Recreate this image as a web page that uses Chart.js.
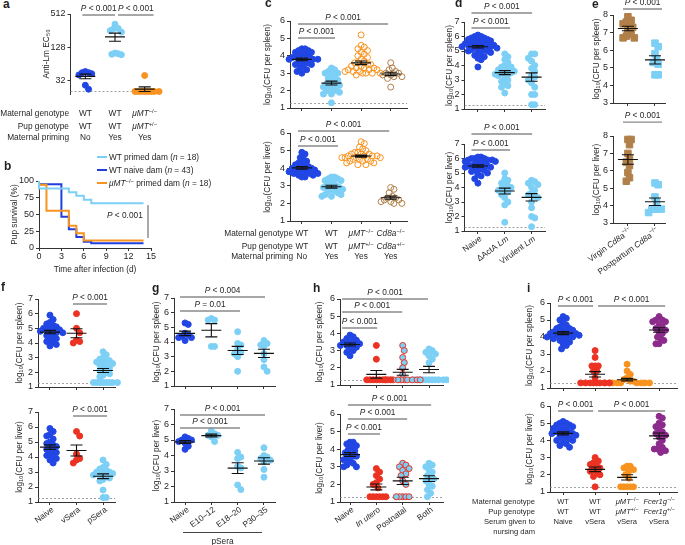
<!DOCTYPE html>
<html>
<head>
<meta charset="utf-8">
<script src="https://cdn.jsdelivr.net/npm/chart.js@4"></script>
<style>
body { margin: 0; background: #fff; }
#fig { position: relative; width: 685px; height: 545px; overflow: hidden; font-family: "Liberation Sans", Arial, sans-serif; color: #231f20; }
#fig canvas { position: absolute; }
.t { position: absolute; white-space: nowrap; font-size: 8.3px; line-height: 12px; }
.lt { position: absolute; font-weight: bold; font-size: 12px; line-height: 12px; }
sup { font-size: 70%; line-height: 0; vertical-align: 3px; }
</style>
</head>
<body>
<div id="fig"></div>
<script>
// ---- data ----

// a: anti-Lm EC50
const aNaive = [46, 44, 44, 42, 40, 26, 22];
const aPrimed = [335, 280, 275, 255, 240, 100, 97, 95, 93];
const aMuMT = [39, 20, 20, 20, 20, 20, 20, 20, 20];

// b: pup survival (%)
const bPrimedDay = [0, 4, 5, 6, 7, 10, 14];
const bPrimedPct = [100, 88.9, 83.3, 77.8, 72.2, 66.7, 66.7];
const bNaiveDay = [0, 3, 4, 5, 6, 7, 8, 14];
const bNaivePct = [100, 95.3, 46.5, 27.9, 16.3, 9.3, 7.0, 7.0];
const bMuMTDay = [0, 1, 4, 5, 6, 7, 14];
const bMuMTPct = [100, 94.4, 55.6, 33.3, 22.2, 11.1, 11.1];

// c: log10 CFU
const cSpleenNaive = [4.4, 4.4, 4.3, 4.3, 4.2, 4.2, 4.1, 4.0, 4.0, 3.9, 3.9, 3.9, 3.8, 3.8, 3.8, 3.7, 3.7, 3.6, 3.6, 3.5, 3.5, 3.4, 3.3, 3.2, 3.1, 3.0];
const cSpleenPrimed = [3.3, 3.2, 3.1, 3.0, 3.0, 2.9, 2.8, 2.7, 2.6, 2.5, 2.4, 2.4, 2.3, 2.2, 2.2, 2.1, 2.0, 2.0, 1.9, 1.8, 1.8, 1.3];
const cSpleenMuMT = [5.2, 4.6, 4.5, 4.4, 4.3, 4.2, 4.1, 4.0, 3.9, 3.8, 3.7, 3.6, 3.6, 3.5, 3.5, 3.4, 3.4, 3.3, 3.3, 3.3, 3.2, 3.2, 3.2, 3.1, 3.1, 3.1, 3.0, 3.0, 3.0, 3.0, 2.9];
const cSpleenCd8a = [3.6, 3.3, 3.2, 3.1, 3.0, 3.0, 2.9, 2.9, 2.8, 2.8, 2.7, 2.2];
const cLiverNaive = [4.9, 4.8, 4.6, 4.5, 4.4, 4.3, 4.2, 4.2, 4.1, 4.1, 4.0, 4.0, 3.9, 3.9, 3.9, 3.8, 3.8, 3.8, 3.7, 3.7, 3.7, 3.6, 3.6, 3.5, 3.5];
const cLiverPrimed = [3.5, 3.5, 3.4, 3.4, 3.3, 3.3, 3.2, 3.1, 3.0, 3.0, 2.9, 2.9, 2.8, 2.8, 2.7, 2.7, 2.6, 2.5, 2.5, 2.4, 2.4];
const cLiverMuMT = [5.5, 5.4, 5.2, 5.1, 5.0, 4.9, 4.9, 4.8, 4.8, 4.8, 4.7, 4.7, 4.7, 4.7, 4.6, 4.6, 4.6, 4.6, 4.5, 4.5, 4.5, 4.4, 4.4, 4.4, 4.3, 4.3, 4.2, 4.2];
const cLiverCd8a = [2.9, 2.8, 2.6, 2.4, 2.3, 2.3, 2.2, 2.2, 2.1, 2.1, 2.0, 2.0];

// d
const dSpleenNaive = [6.1, 6.0, 6.0, 5.9, 5.9, 5.8, 5.8, 5.7, 5.7, 5.6, 5.6, 5.5, 5.5, 5.5, 5.4, 5.4, 5.4, 5.3, 5.3, 5.3, 5.2, 5.2, 5.2, 5.1, 5.1, 5.0, 5.0, 4.9, 4.9, 4.8, 4.7, 4.6, 4.5, 4.4, 3.9];
const dSpleenActA = [4.8, 4.6, 4.4, 4.2, 4.0, 3.9, 3.9, 3.8, 3.7, 3.6, 3.6, 3.5, 3.5, 3.4, 3.4, 3.3, 3.2, 3.0, 2.9, 2.8, 2.6, 2.5, 2.1];
const dSpleenVirulent = [4.8, 4.8, 4.5, 4.3, 4.0, 3.8, 3.6, 3.3, 3.2, 3.0, 2.8, 2.5, 2.0, 2.0, 1.3, 1.3];
const dLiverNaive = [6.1, 6.1, 6.0, 6.0, 6.0, 5.9, 5.9, 5.9, 5.8, 5.8, 5.7, 5.7, 5.6, 5.6, 5.5, 5.5, 5.5, 5.4, 5.4, 5.3, 5.3, 5.2, 5.2, 5.1, 5.0, 4.9, 4.8, 4.6, 4.3];
const dLiverActA = [5.0, 4.6, 4.5, 4.3, 4.2, 4.1, 4.0, 3.9, 3.8, 3.8, 3.7, 3.5, 3.3, 3.0, 2.8, 1.6];
const dLiverVirulent = [4.5, 4.4, 4.3, 4.2, 4.0, 3.8, 3.6, 3.5, 3.4, 3.3, 3.0, 2.6, 2.0, 1.9, 1.3];

// e
const eSpleenVirgin = [7.9, 7.7, 7.6, 7.5, 7.4, 7.3, 7.1, 6.9, 6.8, 6.7, 6.7];
const eSpleenPostpartum = [6.4, 6.2, 5.8, 5.5, 5.3, 5.2, 4.6, 4.6];
const eLiverVirgin = [7.8, 7.8, 7.5, 7.0, 6.7, 6.5, 6.3, 5.9, 5.6, 5.4];
const eLiverPostpartum = [5.3, 5.2, 4.5, 4.2, 3.8, 3.8, 3.8, 3.8, 3.6];

// f
const fSpleenNaive = [5.9, 5.6, 5.4, 5.3, 5.2, 5.1, 5.0, 5.0, 4.9, 4.9, 4.8, 4.8, 4.7, 4.7, 4.6, 4.5, 4.4, 4.3, 4.2, 4.1, 4.0, 3.9, 3.8];
const fSpleenVSera = [6.0, 5.0, 4.7, 4.2, 4.1, 4.0];
const fSpleenPSera = [3.4, 3.2, 3.0, 2.9, 2.8, 2.8, 2.7, 2.6, 2.6, 2.5, 2.4, 2.3, 2.2, 2.1, 2.0, 1.9, 1.8, 1.7, 1.3, 1.3, 1.3, 1.3, 1.3, 1.3, 1.3, 1.3];
const fLiverNaive = [5.9, 5.7, 5.5, 5.4, 5.2, 5.0, 4.9, 4.8, 4.7, 4.6, 4.5, 4.4, 4.3, 4.2, 4.1, 4.0, 3.9, 3.8, 3.6];
const fLiverVSera = [5.7, 5.4, 4.2, 3.9, 3.8, 3.6];
const fLiverPSera = [3.8, 3.5, 3.3, 3.2, 3.1, 3.0, 3.0, 2.9, 2.9, 2.8, 2.8, 2.7, 2.6, 2.5, 2.4, 1.8, 1.3, 1.3];

// g
const gSpleenNaive = [5.3, 5.2, 4.6, 4.5, 4.4, 4.3, 4.3, 4.1];
const gSpleenE10 = [5.6, 5.5, 5.5, 3.7, 3.7];
const gSpleenE18 = [4.7, 3.9, 3.8, 3.5, 3.3, 3.2, 3.0, 2.0];
const gSpleenP30 = [4.1, 3.9, 3.8, 3.7, 3.2, 2.8, 2.3, 2.0];
const gLiverNaive = [5.2, 5.1, 5.0, 5.0, 4.9, 4.8, 4.6, 4.4];
const gLiverE10 = [5.6, 5.4, 5.3, 5.3, 5.2, 4.9];
const gLiverE18 = [4.2, 3.9, 3.8, 3.3, 3.2, 2.1, 1.8];
const gLiverP30 = [4.5, 4.0, 3.9, 3.8, 3.7, 3.6, 3.1, 2.6];

// h
const hSpleenNaive = [3.9, 3.8, 3.7, 3.6, 3.5, 3.5, 3.4, 3.4, 3.3, 3.3, 3.2, 3.1, 3.0, 2.9, 2.7];
const hSpleenUtero = [3.3, 2.5, 1.3, 1.3, 1.3, 1.3, 1.3, 1.3, 1.3, 1.3];
const hSpleenPostnatal = [3.3, 3.0, 2.6, 2.3, 2.0, 1.6, 1.3, 1.3, 1.3, 1.3, 1.3, 1.3, 1.3, 1.3, 1.3, 1.3];
const hSpleenBoth = [3.1, 3.0, 2.9, 2.8, 2.7, 2.5, 2.3, 1.3, 1.3, 1.3, 1.3, 1.3, 1.3, 1.3, 1.3, 1.3, 1.3];
const hLiverNaive = [4.4, 4.4, 4.3, 4.2, 4.1, 4.0, 3.9, 3.8, 3.7, 3.6, 3.6, 3.5, 3.4, 3.3, 3.2, 3.1, 3.0, 3.0];
const hLiverUtero = [2.9, 2.7, 2.5, 2.3, 2.1, 2.0, 1.8, 1.3, 1.3, 1.3, 1.3, 1.3, 1.3];
const hLiverPostnatal = [3.2, 3.1, 3.0, 2.9, 2.8, 2.6, 2.5, 2.2, 2.0, 1.3, 1.3, 1.3, 1.3, 1.3];
const hLiverBoth = [3.2, 3.1, 3.0, 2.8, 2.7, 2.5, 2.4, 2.3, 2.2, 2.0, 1.9, 1.7, 1.5, 1.3];

// i
const iSpleenNaive = [5.2, 5.1, 5.0, 4.8, 4.7, 4.6, 4.5, 4.5, 4.4, 4.4, 4.3, 4.3, 4.2, 4.2, 4.2, 4.1, 4.1, 4.1, 4.0, 4.0, 4.0, 3.9, 3.9, 3.8, 3.7, 3.6, 3.5, 3.3];
const iSpleenVSera = [3.2, 2.8, 2.3, 2.3, 2.3, 2.0, 2.0, 1.6, 1.3, 1.3, 1.3, 1.3, 1.3, 1.3, 1.3, 1.3];
const iSpleenMuMT = [2.4, 2.0, 1.8, 1.6, 1.5, 1.4, 1.4, 1.3, 1.3, 1.3, 1.3, 1.3, 1.3, 1.3, 1.3, 1.3];
const iSpleenFcer = [5.2, 5.0, 5.0, 4.9, 4.9, 4.7, 4.6, 4.5, 4.4, 4.3, 4.2, 4.0, 3.9, 3.8, 3.6, 3.6];
const iLiverNaive = [5.1, 5.0, 5.0, 4.9, 4.9, 4.8, 4.7, 4.7, 4.6, 4.6, 4.5, 4.5, 4.4, 4.4, 4.3, 4.3, 4.2, 4.2, 4.1, 4.0, 4.0, 3.9, 3.8, 3.7, 3.6];
const iLiverVSera = [3.0, 2.8, 2.7, 2.6, 2.5, 2.4, 2.3, 2.2, 2.1, 2.0, 1.9, 1.3];
const iLiverMuMT = [2.5, 2.5, 2.4, 2.3, 2.2, 2.0, 1.8, 1.3, 1.3, 1.3, 1.3, 1.3];
const iLiverFcer = [5.4, 5.3, 5.0, 4.9, 4.8, 4.6, 4.5, 4.4, 4.3, 4.2, 4.0, 3.8, 3.6, 3.5, 3.5, 3.4, 3.3];

const P001 = '_P_ < 0.001';
const LOD = 1.3;

// ---- drawing ----
const BLUE = '#2146e4', LBLUE = '#7ccff5', ORANGE = '#f8931f', RED = '#ec3223', PURPLE = '#8c2b8c', BROWN = '#b1804a';
const AX = '#333';
const INK = '#231f20';
const FONT = '"Liberation Sans", Arial, sans-serif';
const fig = document.getElementById('fig');
const extras = {};

function text(x, y, html, align, size, cls) {
    const d = document.createElement('div');
    d.className = cls || 't';
    d.innerHTML = html;
    d.style.left = x + 'px';
    d.style.top = (y - 6) + 'px';
    if (size) d.style.fontSize = size + 'px';
    if (align === 'center') d.style.transform = 'translateX(-50%)';
    if (align === 'right') d.style.transform = 'translateX(-100%)';
    fig.appendChild(d);
    return d;
}

// _italic_ and ^superscript^ inside canvas strings
function drawRich(ctx, str, x, y, align, size) {
    const parts = [];
    let it = false, sup = false, buf = '';
    for (const ch of str) {
        if (ch === '_' || ch === '^') {
            if (buf) parts.push({ s: buf, it, sup });
            buf = '';
            if (ch === '_') it = !it; else sup = !sup;
        } else buf += ch;
    }
    if (buf) parts.push({ s: buf, it, sup });
    const fontOf = p => (p.it ? 'italic ' : '') + (p.sup ? size * 0.7 : size) + 'px ' + FONT;
    let w = 0;
    parts.forEach(p => { ctx.font = fontOf(p); p.w = ctx.measureText(p.s).width; w += p.w; });
    let cx = align === 'center' ? x - w / 2 : align === 'right' ? x - w : x;
    ctx.textAlign = 'left';
    ctx.textBaseline = 'middle';
    parts.forEach(p => {
        ctx.font = fontOf(p);
        ctx.fillText(p.s, cx, p.sup ? y - size * 0.35 : y);
        cx += p.w;
    });
}

function meanSem(v) {
    const n = v.length;
    const m = v.reduce((a, b) => a + b, 0) / n;
    const sd = Math.sqrt(v.reduce((a, b) => a + (b - m) * (b - m), 0) / (n - 1));
    return [m, sd / Math.sqrt(n)];
}

const figPlugin = {
    id: 'figExtras',
    beforeDatasetsDraw(chart) {
        const ex = extras[chart.canvas.id];
        if (!ex || ex.lod == null) return;
        const { ctx, chartArea: a, scales: { y } } = chart;
        const py = Math.round(y.getPixelForValue(ex.lod)) + 0.5;
        ctx.save();
        ctx.strokeStyle = '#8a8a8a';
        ctx.lineWidth = 0.8;
        ctx.setLineDash([2, 2]);
        ctx.beginPath();
        ctx.moveTo(a.left, py);
        ctx.lineTo(a.right, py);
        ctx.stroke();
        ctx.restore();
    },
    afterDatasetsDraw(chart) {
        const ex = extras[chart.canvas.id];
        if (!ex) return;
        const { ctx, chartArea: a, scales: { x, y } } = chart;
        ctx.save();
        // mean +- s.e.m.
        (ex.groups || []).forEach(g => {
            const [m, s] = meanSem(g.v);
            const px = x.getPixelForValue(g.col);
            const pm = y.getPixelForValue(m);
            const p1 = y.getPixelForValue(m + s), p2 = y.getPixelForValue(m - s);
            ctx.strokeStyle = '#111';
            ctx.lineWidth = 1.1;
            ctx.beginPath();
            ctx.moveTo(px - 10, pm); ctx.lineTo(px + 10, pm);
            ctx.moveTo(px, p1); ctx.lineTo(px, p2);
            ctx.moveTo(px - 6, p1); ctx.lineTo(px + 6, p1);
            ctx.moveTo(px - 6, p2); ctx.lineTo(px + 6, p2);
            ctx.stroke();
        });
        // significance brackets
        ctx.fillStyle = INK;
        (ex.brackets || []).forEach(br => {
            const x1 = x.getPixelForValue(br.from), x2 = x.getPixelForValue(br.to);
            const py = y.getPixelForValue(br.y);
            ctx.strokeStyle = '#8a8a8a';
            ctx.lineWidth = 1.4;
            ctx.beginPath();
            ctx.moveTo(x1, py); ctx.lineTo(x2, py);
            ctx.stroke();
            drawRich(ctx, br.label || P001, (x1 + x2) / 2, py - 6.5, 'center', 8.3);
        });
        // free texts and vertical bars in data units
        (ex.vbars || []).forEach(vb => {
            const px = x.getPixelForValue(vb.x);
            ctx.strokeStyle = '#555';
            ctx.lineWidth = 1;
            ctx.beginPath();
            ctx.moveTo(px, y.getPixelForValue(vb.y1));
            ctx.lineTo(px, y.getPixelForValue(vb.y2));
            ctx.stroke();
        });
        (ex.texts || []).forEach(t => {
            drawRich(ctx, t.label, x.getPixelForValue(t.x), y.getPixelForValue(t.y), 'center', 8.3);
        });
        // rotated category labels
        (ex.xlabels || []).forEach((lab, i) => {
            ctx.save();
            ctx.translate(x.getPixelForValue(i) + 3, a.bottom + 7);
            ctx.rotate(-36 * Math.PI / 180);
            drawRich(ctx, lab, 0, 0, 'right', 8.3);
            ctx.restore();
        });
        ctx.restore();
    }
};
Chart.register(figPlugin);

// spread close values sideways so dots do not pile up (beeswarm, elliptical keep-out)
function swarm(values, col, xPx, yPx, toY) {
    const rx = 3.2, ry = 5.5, step = 1.6;
    const placed = [];
    const pts = [];
    values.slice().sort((p, q) => q - p).forEach(v => {
        const py = toY(v) * yPx;
        for (let k = 0; k < 400; k++) {
            const off = (k % 2 ? 1 : -1) * Math.ceil(k / 2) * step;
            const free = placed.every(q => {
                const dx = (q[0] - off) / rx, dy = (q[1] - py) / ry;
                return dx * dx + dy * dy >= 1;
            });
            if (free) {
                placed.push([off, py]);
                pts.push({ x: col + off / xPx, y: v });
                break;
            }
        }
    });
    return pts;
}

function makeCanvas(id, p) {
    const extL = p.extL || 0;
    const cl = Math.round(p.titleX - 5 - extL);
    const padTop = Math.min(24, p.t);
    const ct = Math.round(p.t - padTop);
    const cw = Math.ceil(p.r - cl + (p.padR || 6));
    const ch = Math.ceil(p.b - ct + (p.xh || 8));
    const cv = document.createElement('canvas');
    cv.id = id;
    cv.width = cw;
    cv.height = ch;
    cv.style.left = cl + 'px';
    cv.style.top = ct + 'px';
    fig.appendChild(cv);
    return { cv, extL, yw: p.l - cl - extL, pt: p.t - ct, pr: cw - (p.r - cl), xh: ch - (p.b - ct) };
}

function yTitle(txt) {
    return { display: true, text: txt, color: INK, padding: 0, font: { size: 8.3, family: FONT } };
}

function dotPanel(id, p) {
    const c = makeCanvas(id, p);
    const toY = p.log ? Math.log10 : (v => v);
    const xPx = (p.r - p.l) / (p.xmax - p.xmin);
    const yPx = (p.b - p.t) / (toY(p.ymax) - toY(p.ymin));
    const cols = p.groups.map(g => g.col);
    const datasets = p.groups.map(g => ({
        data: swarm(g.v, g.col, xPx, yPx, toY),
        pointStyle: g.shape || 'circle',
        pointRadius: g.rad || 3,
        pointBackgroundColor: g.fill,
        pointBorderColor: g.edge,
        pointBorderWidth: 1,
        clip: false
    }));
    extras[id] = { groups: p.groups, lod: p.lod, brackets: p.brackets, xlabels: p.xlabels };
    const yScale = {
        type: p.log ? 'logarithmic' : 'linear',
        min: p.ymin, max: p.ymax,
        afterFit: s => { s.width = c.yw; },
        ticks: { stepSize: 1, color: INK, padding: 2, font: { size: 9, family: FONT }, callback: v => v },
        grid: { drawOnChartArea: false, tickLength: 3, color: AX },
        border: { color: AX },
        title: yTitle(p.title)
    };
    if (p.yticks) yScale.afterBuildTicks = s => { s.ticks = p.yticks.map(v => ({ value: v })); };
    new Chart(c.cv, {
        type: 'scatter',
        data: { datasets },
        options: {
            responsive: false, animation: false, events: [],
            layout: { padding: { top: c.pt, right: c.pr, left: c.extL, bottom: p.noX ? c.xh : 0 } },
            plugins: { legend: { display: false }, tooltip: { enabled: false } },
            scales: {
                x: {
                    type: 'linear', display: !p.noX, min: p.xmin, max: p.xmax,
                    afterBuildTicks: s => { s.ticks = cols.map(v => ({ value: v })); },
                    afterFit: s => { s.height = c.xh; },
                    ticks: { display: false },
                    grid: { drawOnChartArea: false, tickLength: 3, color: AX },
                    border: { color: AX }
                },
                y: yScale
            }
        }
    });
}

const SPLEEN = 'log\u2081\u2080(CFU per spleen)';
const LIVER = 'log\u2081\u2080(CFU per liver)';
const dot = (v, col, color) => ({ v, col, fill: color, edge: color });
const ring = (v, col, color) => ({ v, col, fill: 'rgba(255,255,255,0)', edge: color });
const sq = (v, col, color) => ({ v, col, fill: color, edge: color, shape: 'rect', rad: 4.6 });

// panel a
dotPanel('a', {
    l: 70.5, r: 159.5, t: 14, b: 98.5, xmin: -0.5, xmax: 2.5, ymin: 18, ymax: 512, log: true,
    yticks: [32, 128, 512], titleX: 46.5, title: 'Anti-Lm EC\u2085\u2080', noX: true, xh: 4, lod: 20,
    groups: [dot(aNaive, 0, BLUE), dot(aPrimed, 1, LBLUE), dot(aMuMT, 2, ORANGE)],
    brackets: [{ from: -0.1, to: 1.0, y: 492 }, { from: 1.1, to: 2.3, y: 492 }]
});

// panel c
const cX = { l: 290, r: 407, xmin: -0.4, xmax: 3.55, ymin: 1, ymax: 6, titleX: 268 };
dotPanel('cS', Object.assign({}, cX, {
    t: 21, b: 108, title: SPLEEN, lod: LOD,
    groups: [dot(cSpleenNaive, 0, BLUE), dot(cSpleenPrimed, 1, LBLUE), ring(cSpleenMuMT, 2, ORANGE), ring(cSpleenCd8a, 3, BROWN)],
    brackets: [{ from: -0.13, to: 2.91, y: 5.83 }, { from: -0.13, to: 1.12, y: 5.02 }]
}));
dotPanel('cL', Object.assign({}, cX, {
    t: 133, b: 221, title: LIVER,
    groups: [dot(cLiverNaive, 0, BLUE), dot(cLiverPrimed, 1, LBLUE), ring(cLiverMuMT, 2, ORANGE), ring(cLiverCd8a, 3, BROWN)],
    brackets: [{ from: -0.13, to: 2.95, y: 6.11 }, { from: -0.13, to: 1.22, y: 5.26 }]
}));

// panel d
const dX = { l: 464.5, r: 545.5, xmin: -0.5, xmax: 2.5, ymin: 1, ymax: 7, titleX: 450, padR: 4 };
dotPanel('dS', Object.assign({}, dX, {
    t: 22, b: 109, title: SPLEEN, lod: LOD,
    groups: [dot(dSpleenNaive, 0, BLUE), dot(dSpleenActA, 1, LBLUE), dot(dSpleenVirulent, 2, LBLUE)],
    brackets: [{ from: -0.24, to: 2.02, y: 7.62 }, { from: -0.24, to: 1.2, y: 6.59 }]
}));
dotPanel('dL', Object.assign({}, dX, {
    t: 144, b: 231, title: LIVER, lod: LOD, xh: 44,
    groups: [dot(dLiverNaive, 0, BLUE), dot(dLiverActA, 1, LBLUE), dot(dLiverVirulent, 2, LBLUE)],
    brackets: [{ from: -0.24, to: 2.02, y: 7.69 }, { from: -0.24, to: 1.2, y: 6.59 }],
    xlabels: ['Naive', '\u0394ActA _Lm_', 'Virulent _Lm_']
}));

// panel e
const eX = { l: 613, r: 665, xmin: -0.55, xmax: 1.37, ymin: 3, ymax: 8, titleX: 597, padR: 6 };
dotPanel('eS', Object.assign({}, eX, {
    t: 15, b: 103, title: SPLEEN,
    groups: [sq(eSpleenVirgin, 0, BROWN), sq(eSpleenPostpartum, 1, LBLUE)],
    brackets: [{ from: -0.18, to: 1.26, y: 8.34 }]
}));
dotPanel('eL', Object.assign({}, eX, {
    t: 136, b: 223, title: LIVER, xh: 60, extL: 36,
    groups: [sq(eLiverVirgin, 0, BROWN), sq(eLiverPostpartum, 1, LBLUE)],
    brackets: [{ from: -0.18, to: 1.26, y: 8.8 }],
    xlabels: ['Virgin _Cd8a_^\u2212/\u2212^', 'Postpartum _Cd8a_^\u2212/\u2212^']
}));

// panel f
const fX = { l: 38, r: 115, xmin: -0.45, xmax: 2.45, ymin: 1, ymax: 7, titleX: 20 };
dotPanel('fS', Object.assign({}, fX, {
    t: 299, b: 387, title: SPLEEN, lod: LOD,
    groups: [dot(fSpleenNaive, 0, BLUE), dot(fSpleenVSera, 1, RED), dot(fSpleenPSera, 2, LBLUE)],
    brackets: [{ from: 0.87, to: 2.15, y: 6.66 }]
}));
dotPanel('fL', Object.assign({}, fX, {
    t: 412, b: 502, title: LIVER, lod: LOD, xh: 40,
    groups: [dot(fLiverNaive, 0, BLUE), dot(fLiverVSera, 1, RED), dot(fLiverPSera, 2, LBLUE)],
    brackets: [{ from: 0.87, to: 2.15, y: 6.73 }],
    xlabels: ['Naive', 'vSera', 'pSera']
}));

// panel g
const gX = { l: 174, r: 275, xmin: -0.42, xmax: 3.42, ymin: 1, ymax: 7, titleX: 157 };
dotPanel('gS', Object.assign({}, gX, {
    t: 298, b: 386, title: SPLEEN,
    groups: [dot(gSpleenNaive, 0, BLUE), dot(gSpleenE10, 1, LBLUE), dot(gSpleenE18, 2, LBLUE), dot(gSpleenP30, 3, LBLUE)],
    brackets: [{ from: -0.19, to: 3.04, y: 7.07, label: '_P_ < 0.004' }, { from: -0.19, to: 2.09, y: 6.11, label: '_P_ = 0.01' }]
}));
dotPanel('gL', Object.assign({}, gX, {
    t: 409, b: 502, title: LIVER, xh: 40,
    groups: [dot(gLiverNaive, 0, BLUE), dot(gLiverE10, 1, LBLUE), dot(gLiverE18, 2, LBLUE), dot(gLiverP30, 3, LBLUE)],
    brackets: [{ from: -0.19, to: 3.04, y: 6.61 }, { from: -0.19, to: 2.09, y: 5.77 }],
    xlabels: ['Naive', 'E10\u201312', 'E18\u201320', 'P30\u201335']
}));

// panel h
const hX = { l: 340, r: 443, xmin: -0.38, xmax: 3.53, ymin: 1, ymax: 6, titleX: 320 };
const postnatal = v => ({ v, col: 2, fill: LBLUE, edge: RED });
dotPanel('hS', Object.assign({}, hX, {
    t: 299, b: 385, title: SPLEEN, lod: LOD,
    groups: [dot(hSpleenNaive, 0, BLUE), dot(hSpleenUtero, 1, RED), postnatal(hSpleenPostnatal), dot(hSpleenBoth, 3, LBLUE)],
    brackets: [{ from: -0.3, to: 2.96, y: 6.0 }, { from: -0.3, to: 1.98, y: 5.24 }, { from: -0.3, to: 1.03, y: 4.31 }]
}));
dotPanel('hL', Object.assign({}, hX, {
    t: 414, b: 502, title: LIVER, lod: LOD, xh: 40,
    groups: [dot(hLiverNaive, 0, BLUE), dot(hLiverUtero, 1, RED), postnatal(hLiverPostnatal), dot(hLiverBoth, 3, LBLUE)],
    brackets: [{ from: -0.08, to: 3.08, y: 6.51 }, { from: -0.08, to: 2.17, y: 5.72 }, { from: -0.08, to: 1.14, y: 4.86 }],
    xlabels: ['Naive', '_In utero_', 'Postnatal', 'Both']
}));

// panel i
const iX = { l: 550, r: 677, xmin: -0.41, xmax: 3.56, ymin: 1, ymax: 6, titleX: 530, padR: 5 };
dotPanel('iS', Object.assign({}, iX, {
    t: 303, b: 388, title: SPLEEN, lod: LOD,
    groups: [dot(iSpleenNaive, 0, BLUE), dot(iSpleenVSera, 1, RED), dot(iSpleenMuMT, 2, ORANGE), dot(iSpleenFcer, 3, PURPLE)],
    brackets: [{ from: -0.16, to: 0.94, y: 5.82 }, { from: 1.09, to: 3.19, y: 5.82 }]
}));
dotPanel('iL', Object.assign({}, iX, {
    t: 406, b: 492, title: LIVER, lod: LOD,
    groups: [dot(iLiverNaive, 0, BLUE), dot(iLiverVSera, 1, RED), dot(iLiverMuMT, 2, ORANGE), dot(iLiverFcer, 3, PURPLE)],
    brackets: [{ from: -0.16, to: 0.94, y: 5.71 }, { from: 1.09, to: 3.19, y: 5.71 }]
}));

// panel b: survival curves
(function () {
    const p = { l: 39, r: 151, t: 181, b: 248, titleX: 15, padR: 8, xh: 27 };
    const c = makeCanvas('b', p);
    const pts = (d, s) => d.map((v, i) => ({ x: v, y: s[i] }));
    const line = (d, s, color) => ({
        data: pts(d, s), showLine: true, stepped: 'after', borderColor: color,
        borderWidth: 2, pointRadius: 0, fill: false, clip: false
    });
    extras.b = {
        vbars: [{ x: 14.6, y1: 64, y2: 15 }],
        texts: [{ x: 11.5, y: 47.8, label: P001 }]
    };
    new Chart(c.cv, {
        type: 'scatter',
        data: {
            datasets: [
                line(bPrimedDay, bPrimedPct, LBLUE),
                line(bMuMTDay, bMuMTPct, ORANGE),
                line(bNaiveDay, bNaivePct, '#1f3fe0')
            ]
        },
        options: {
            responsive: false, animation: false, events: [],
            layout: { padding: { top: c.pt, right: c.pr, left: 0, bottom: 0 } },
            plugins: { legend: { display: false }, tooltip: { enabled: false } },
            scales: {
                x: {
                    type: 'linear', min: 0, max: 15,
                    afterFit: s => { s.height = c.xh; },
                    ticks: { stepSize: 3, color: INK, padding: 0, font: { size: 9, family: FONT } },
                    grid: { drawOnChartArea: false, tickLength: 3, color: AX },
                    border: { color: AX },
                    title: { display: true, text: 'Time after infection (d)', color: INK, padding: 0, font: { size: 8.3, family: FONT } }
                },
                y: {
                    min: 0, max: 100,
                    afterFit: s => { s.width = c.yw; },
                    ticks: { stepSize: 25, color: INK, padding: 2, font: { size: 9, family: FONT } },
                    grid: { drawOnChartArea: false, tickLength: 3, color: AX },
                    border: { color: AX },
                    title: yTitle('Pup survival (%)')
                }
            }
        }
    });
    const legend = [
        [LBLUE, 'WT primed dam (<i>n</i> = 18)'],
        ['#1f3fe0', 'WT naive dam (<i>n</i> = 43)'],
        [ORANGE, '<i>\u03bcMT</i><sup>\u2212/\u2212</sup> primed dam (<i>n</i> = 18)']
    ];
    legend.forEach((e, i) => {
        const yy = 157 + i * 13;
        const ln = document.createElement('div');
        ln.style.cssText = `position:absolute;left:97px;top:${yy - 1}px;width:10px;height:2px;background:${e[0]}`;
        fig.appendChild(ln);
        text(109, yy, e[1], 'left');
    });
})();

// ---- HTML text: row labels, letters, brackets ----
const MU_MM = '<i>\u03bcMT</i><sup>\u2212/\u2212</sup>';
const MU_PM = '<i>\u03bcMT</i><sup>+/\u2212</sup>';
function rowTable(rows, colsX, rightX, size) {
    rows.forEach(r => {
        text(rightX, r.y, r.name, 'right', size);
        (r.vals || []).forEach((v, i) => text(colsX[i], r.y, v, 'center', size));
    });
}
const colX = (p, n) => Array.from({ length: n }, (_, k) => p.l + (k - p.xmin) * (p.r - p.l) / (p.xmax - p.xmin));

rowTable([
    { y: 113, name: 'Maternal genotype', vals: ['WT', 'WT', MU_MM] },
    { y: 126, name: 'Pup genotype', vals: ['WT', 'WT', MU_PM] },
    { y: 137, name: 'Maternal priming', vals: ['No', 'Yes', 'Yes'] }
], colX({ l: 70.5, r: 159.5, xmin: -0.5, xmax: 2.5 }, 3), 69);

rowTable([
    { y: 233, name: 'Maternal genotype', vals: ['WT', 'WT', MU_MM, '<i>Cd8a</i><sup>\u2212/\u2212</sup>'] },
    { y: 246, name: 'Pup genotype', vals: ['WT', 'WT', MU_PM, '<i>Cd8a</i><sup>+/\u2212</sup>'] },
    { y: 256, name: 'Maternal priming', vals: ['No', 'Yes', 'Yes', 'Yes'] }
], colX(cX, 4), 293);

rowTable([
    { y: 502, name: 'Maternal genotype', vals: ['WT', 'WT', MU_MM, '<i>Fcer1g</i><sup>\u2212/\u2212</sup>'] },
    { y: 512, name: 'Pup genotype', vals: ['WT', 'WT', MU_PM, '<i>Fcer1g</i><sup>+/\u2212</sup>'] },
    { y: 522, name: 'Serum given to', vals: ['Naive', 'vSera', 'vSera', 'vSera'] },
    { y: 532, name: 'nursing dam' }
], colX(iX, 4), 535, 7.6);

// pSera grouping line under g
const pl = document.createElement('div');
pl.style.cssText = 'position:absolute;left:183px;top:532px;width:79px;height:0;border-top:1px solid #444';
fig.appendChild(pl);
text(222.5, 541, 'pSera', 'center');

[['a', 3, 5], ['b', 4, 167], ['c', 265, 4], ['d', 455, 4], ['e', 592, 5],
 ['f', 1, 288], ['g', 152, 289], ['h', 313, 289], ['i', 527, 289]].forEach(l => {
    text(l[1], l[2] - 1, l[0], 'left', null, 'lt');
});
</script>
</body>
</html>
